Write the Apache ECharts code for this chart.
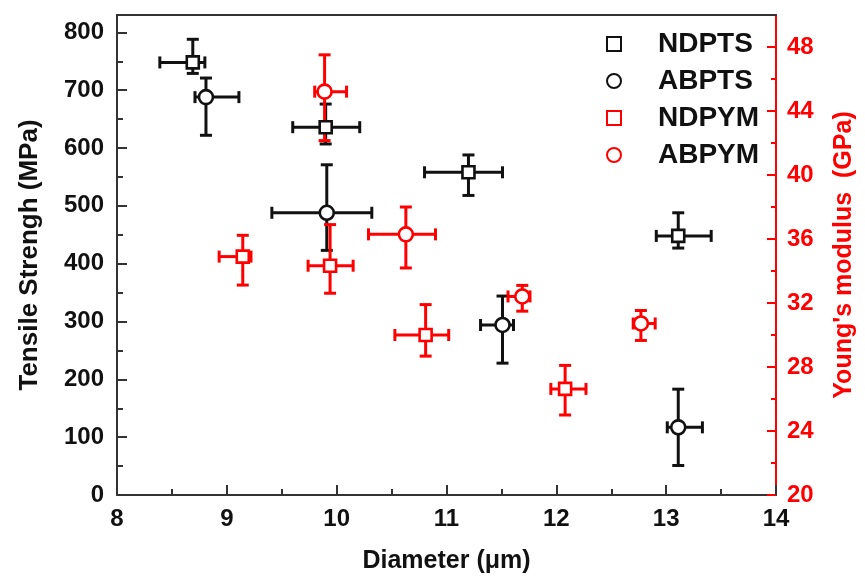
<!DOCTYPE html>
<html>
<head>
<meta charset="utf-8">
<script src="https://cdn.jsdelivr.net/npm/echarts@6/dist/echarts.min.js"></script>
<style>html,body{margin:0;padding:0;background:#fff}#c{width:865px;height:579px}</style>
</head>
<body>
<div id="c"></div>
<script>
// ---- data ----
var seriesNames = ['NDPTS', 'ABPTS', 'NDPYM', 'ABPYM'];
var xTicks = [8, 9, 10, 11, 12, 13, 14];
var leftTicks = [0, 100, 200, 300, 400, 500, 600, 700, 800];
var leftMinor = [50, 150, 250, 350, 450, 550, 650, 750];
var rightTicks = [20, 24, 28, 32, 36, 40, 44, 48];
var rightMinor = [22, 26, 30, 34, 38, 42, 46];

var ndptsX   = [8.69, 9.90, 11.20, 13.11];
var ndptsY   = [748, 636, 558, 448];
var ndptsXLo = [8.39, 9.60, 10.80, 12.91];
var ndptsXHi = [8.80, 10.21, 11.51, 13.41];
var ndptsYLo = [729, 607, 518, 427];
var ndptsYHi = [788, 676, 588, 488];

var abptsX   = [8.81, 9.91, 11.51, 13.11];
var abptsY   = [688, 488, 294, 117];
var abptsXLo = [8.71, 9.41, 11.31, 13.01];
var abptsXHi = [9.11, 10.32, 11.61, 13.33];
var abptsYLo = [622, 423, 228, 51];
var abptsYHi = [721, 571, 344, 183];

var ndpymX   = [9.145, 9.94, 10.81, 12.08];
var ndpymY   = [34.90, 34.33, 30.00, 26.63];
var ndpymXLo = [8.93, 9.74, 10.53, 11.95];
var ndpymXHi = [9.22, 10.15, 11.02, 12.27];
var ndpymYLo = [33.12, 32.61, 28.68, 25.00];
var ndpymYHi = [36.23, 36.90, 31.90, 28.10];

var abpymX   = [9.89, 10.63, 11.69, 12.77];
var abpymY   = [45.21, 36.29, 32.41, 30.72];
var abpymXLo = [9.80, 10.29, 11.56, 12.70];
var abpymXHi = [10.09, 10.90, 11.76, 12.90];
var abpymYLo = [42.15, 34.19, 31.49, 29.66];
var abpymYHi = [47.51, 38.00, 33.10, 31.53];

// ---- build ----
var FONT = '"Liberation Sans", Arial, sans-serif';
var BLACK = '#111';
var RED = '#ff0000';

function rows(X, Y, XL, XH, YL, YH) {
  return X.map(function (x, i) { return [x, Y[i], XL[i], XH[i], YL[i], YH[i]]; });
}
function pts(X, Y) { return X.map(function (x, i) { return [x, Y[i]]; }); }

function errSeries(name, data, yIdx, color) {
  return {
    type: 'custom', name: name, xAxisIndex: 0, yAxisIndex: yIdx, z: 2,
    encode: { x: [0, 2, 3], y: [1, 4, 5] },
    data: data,
    renderItem: function (params, api) {
      var c = api.coord([api.value(0), api.value(1)]);
      var xl = api.coord([api.value(2), api.value(1)]);
      var xh = api.coord([api.value(3), api.value(1)]);
      var yl = api.coord([api.value(0), api.value(4)]);
      var yh = api.coord([api.value(0), api.value(5)]);
      var cap = 6;
      var st = { stroke: color, lineWidth: 3 };
      function ln(x1, y1, x2, y2) { return { type: 'line', shape: { x1: x1, y1: y1, x2: x2, y2: y2 }, style: st }; }
      return {
        type: 'group',
        children: [
          ln(xl[0], c[1], xh[0], c[1]),
          ln(c[0], yl[1], c[0], yh[1]),
          ln(xl[0], c[1] - cap, xl[0], c[1] + cap),
          ln(xh[0], c[1] - cap, xh[0], c[1] + cap),
          ln(c[0] - cap, yl[1], c[0] + cap, yl[1]),
          ln(c[0] - cap, yh[1], c[0] + cap, yh[1])
        ]
      };
    }
  };
}
function markSeries(name, data, yIdx, color, sym, size) {
  return {
    type: 'scatter', name: name, xAxisIndex: 0, yAxisIndex: yIdx, z: 5,
    symbol: sym, symbolSize: size, data: data,
    itemStyle: { color: '#ffffff', borderColor: color, borderWidth: 2.6, opacity: 1 }
  };
}

var option = {
  animation: false,
  backgroundColor: '#ffffff',
  grid: { left: 117, right: 88, top: 15, bottom: 73, containLabel: false },
  legend: {
    data: seriesNames,
    orient: 'vertical',
    left: 601, top: 25,
    itemWidth: 14, itemHeight: 14, itemGap: 9,
    textStyle: { fontFamily: FONT, fontWeight: 'bold', fontSize: 28, color: BLACK, lineHeight: 28, padding: [0, 0, 0, 32] }
  },
  xAxis: [{
    type: 'value', min: 8, max: 14, interval: 1, position: 'bottom',
    name: 'Diameter (\u03bcm)', nameLocation: 'middle', nameGap: 54,
    nameTextStyle: { fontFamily: FONT, fontWeight: 'bold', fontSize: 25, color: BLACK },
    axisLine: { show: true, onZero: false, lineStyle: { color: '#333', width: 2 } },
    axisTick: { show: true, inside: true, length: 10, lineStyle: { color: '#333', width: 2 } },
    minorTick: { show: true, splitNumber: 2, length: 6, lineStyle: { color: '#333', width: 2 } },
    axisLabel: { margin: 12, fontFamily: FONT, fontWeight: 'bold', fontSize: 24, color: BLACK },
    splitLine: { show: false }
  }, {
    type: 'value', min: 8, max: 14, position: 'top',
    axisLine: { show: true, onZero: false, lineStyle: { color: '#333', width: 2 } },
    axisTick: { show: false }, axisLabel: { show: false }, splitLine: { show: false }
  }],
  yAxis: [{
    type: 'value', min: 0, max: 830, position: 'left',
    name: 'Tensile Strengh (MPa)', nameLocation: 'middle', nameGap: 74, nameRotate: 90,
    nameTextStyle: { fontFamily: FONT, fontWeight: 'bold', fontSize: 26, color: BLACK },
    axisLine: { show: true, onZero: false, lineStyle: { color: '#333', width: 2 } },
    axisTick: { show: true, inside: true, length: 10, customValues: leftTicks, lineStyle: { color: '#333', width: 2 } },
    axisLabel: { margin: 13, customValues: leftTicks, fontFamily: FONT, fontWeight: 'bold', fontSize: 24, color: BLACK },
    splitLine: { show: false }
  }, {
    type: 'value', min: 20, max: 50, position: 'right',
    name: "Young's modulus  (GPa)", nameLocation: 'middle', nameGap: 56, nameRotate: 90,
    nameTextStyle: { fontFamily: FONT, fontWeight: 'bold', fontSize: 25, color: RED },
    axisLine: { show: true, onZero: false, lineStyle: { color: RED, width: 2 } },
    axisTick: { show: true, inside: true, length: 9, customValues: rightTicks, lineStyle: { color: RED, width: 2 } },
    axisLabel: { margin: 11, customValues: rightTicks, fontFamily: FONT, fontWeight: 'bold', fontSize: 24, color: RED },
    splitLine: { show: false }
  }, {
    type: 'value', min: 0, max: 830, position: 'left',
    axisLine: { show: false },
    axisTick: { show: true, inside: true, length: 6, customValues: leftMinor, lineStyle: { color: '#333', width: 2 } },
    axisLabel: { show: false }, splitLine: { show: false }
  }, {
    type: 'value', min: 20, max: 50, position: 'right',
    axisLine: { show: false },
    axisTick: { show: true, inside: true, length: 5, customValues: rightMinor, lineStyle: { color: RED, width: 2 } },
    axisLabel: { show: false }, splitLine: { show: false }
  }],
  series: [
    errSeries('NDPTS err', rows(ndptsX, ndptsY, ndptsXLo, ndptsXHi, ndptsYLo, ndptsYHi), 0, BLACK),
    errSeries('ABPTS err', rows(abptsX, abptsY, abptsXLo, abptsXHi, abptsYLo, abptsYHi), 0, BLACK),
    errSeries('NDPYM err', rows(ndpymX, ndpymY, ndpymXLo, ndpymXHi, ndpymYLo, ndpymYHi), 1, RED),
    errSeries('ABPYM err', rows(abpymX, abpymY, abpymXLo, abpymXHi, abpymYLo, abpymYHi), 1, RED),
    markSeries(seriesNames[0], pts(ndptsX, ndptsY), 0, BLACK, 'rect', 12),
    markSeries(seriesNames[1], pts(abptsX, abptsY), 0, BLACK, 'circle', 14),
    markSeries(seriesNames[2], pts(ndpymX, ndpymY), 1, RED, 'rect', 12),
    markSeries(seriesNames[3], pts(abpymX, abpymY), 1, RED, 'circle', 14)
  ]
};
var chart = echarts.init(document.getElementById('c'), null, { renderer: 'canvas' });
chart.setOption(option);
</script>
</body>
</html>
